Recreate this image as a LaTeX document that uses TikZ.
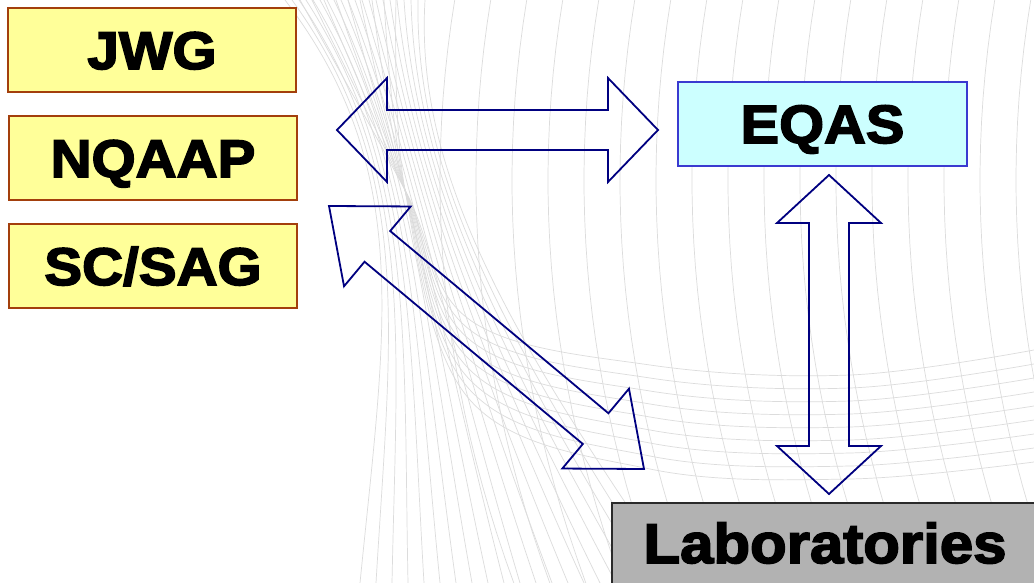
\documentclass[tikz,border=0pt]{standalone}
\usepackage{fontspec}
\setmainfont{Liberation Sans}
\newfontfamily\labelfont{Liberation Sans}[BoldFeatures={FakeBold=3, FakeStretch=1.07}]
\usetikzlibrary{calc}

\definecolor{boxyellow}{HTML}{FFFF99}
\definecolor{boxbrown}{HTML}{A33F0C}
\definecolor{boxcyan}{HTML}{CCFFFF}
\definecolor{boxblue}{HTML}{3A3AD0}
\definecolor{boxgray}{HTML}{B2B2B2}
\definecolor{boxdark}{HTML}{2A2A2A}
\definecolor{arrownavy}{HTML}{000080}
\definecolor{curvegray}{HTML}{DCDCDC}

\tikzset{
  bgline/.style={curvegray, line width=0.7pt},
  labelbox/.style={draw, line width=1.5pt, inner sep=0pt, text=black,
    font=\labelfont\bfseries\fontsize{53}{60}\selectfont,
    text height=38pt, text depth=0pt},
  boardbox/.style={labelbox, fill=boxyellow, draw=boxbrown,
    minimum width=288pt, minimum height=84pt},
  schemebox/.style={labelbox, fill=boxcyan, draw=boxblue,
    font=\labelfont\bfseries\fontsize{54}{60}\selectfont,
    minimum width=289pt, minimum height=84pt},
  labbox/.style={labelbox, fill=boxgray, draw=boxdark,
    font=\labelfont\bfseries\fontsize{56}{62}\selectfont,
    text height=40pt, text depth=8pt,
    minimum width=426pt, minimum height=88pt},
  blockarrow/.style={draw=arrownavy, line width=1.8pt, line join=miter}
}

% hollow two-headed block arrow between two named points
% #1, #2: tips; #3: head length; #4: head half-width (shaft half-width 20pt)
\newcommand\twoway[4]{%
  \draw[blockarrow] (#1)
    -- ($(#1)!#3!(#2)!#4!90:(#2)$)
    -- ($(#1)!#3!(#2)!20pt!90:(#2)$)
    -- ($(#2)!#3!(#1)!20pt!-90:(#1)$)
    -- ($(#2)!#3!(#1)!#4!-90:(#1)$)
    -- (#2)
    -- ($(#2)!#3!(#1)!#4!90:(#1)$)
    -- ($(#2)!#3!(#1)!20pt!90:(#1)$)
    -- ($(#1)!#3!(#2)!20pt!-90:(#2)$)
    -- ($(#1)!#3!(#2)!#4!-90:(#2)$)
    -- cycle;}

\begin{document}
\begin{tikzpicture}[x=1pt, y=-1pt]
  \useasboundingbox (0,0) rectangle (1034,583);
  \fill[white] (0,0) rectangle (1034,583);
  \clip (0,0) rectangle (1034,583);

  % faint background curves: fan through the waist, bending downwards
  \foreach \i in {0,...,20} {
    \draw[bgline] ({285+7*\i},0) .. controls (415,170) and ({385+6*\i},330) .. ({360+16*\i},583);
  }
  % fan through the waist, sweeping out to the right
  \foreach \j in {0,...,8} {
    \draw[bgline] plot[smooth, tension=0.6] coordinates
      {({300+12*\j},0) (405,190) (470,{320+10*\j}) (650,{365+13*\j}) (850,{375+13*\j}) (1034,{350+14*\j})};
  }
  % wide open arcs across the right half
  \foreach \v in {440,476,...,1040} {
    \draw[bgline] plot[domain=0:583, samples=25, variable=\t]
      ({\v+4.545*((\t-180)/100)^2},\t);
  }

  % boxes
  \node[boardbox] (jwg)   at (152,50)  {JWG};
  \node[boardbox] (nqaap) at (153,158) {NQAAP};
  \node[boardbox] (scsag) at (153,266) {SC/SAG};
  \node[schemebox] (eqas) at (822.5,124) {EQAS};
  \node[labbox] (labs) at (825,547) {Laboratories};

  % arrow tips
  \coordinate (hL) at (337,130);
  \coordinate (hR) at (658,130);
  \coordinate (vT) at (829,175);
  \coordinate (vB) at (829,494);
  \coordinate (dT) at (329,206);
  \coordinate (dB) at (644,469);

  \twoway{hL}{hR}{50pt}{52pt}
  \twoway{vT}{vB}{48pt}{52pt}
  \twoway{dT}{dB}{63pt}{52pt}
\end{tikzpicture}
\end{document}
